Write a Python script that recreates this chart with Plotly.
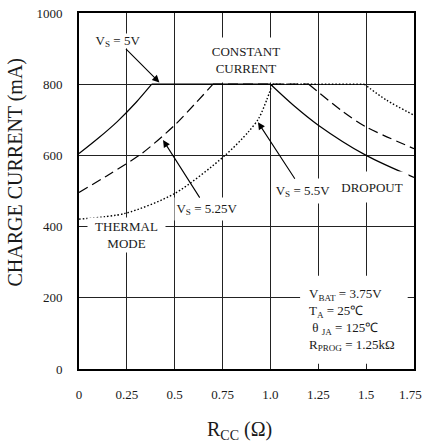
import plotly.graph_objects as go

# ---- data ----
x_ticks = [0, 0.25, 0.5, 0.75, 1.0, 1.25, 1.5, 1.75]
x_tick_labels = ["0", "0.25", "0.5", "0.75", "1.0", "1.25", "1.5", "1.75"]
y_ticks = [0, 200, 400, 600, 800, 1000]

plateau = 800  # constant current (mA)

# VS = 5V (solid)
vs5_rise_x = [0, 0.1, 0.2, 0.3, 0.38]
vs5_rise_y = [605, 648, 695, 750, 800]
vs5_fall_x = [1.0, 1.12, 1.25, 1.5, 1.75]
vs5_fall_y = [800, 741, 685, 600, 538]

# VS = 5.25V (dashed)
vs525_rise_x = [0, 0.153, 0.327, 0.5, 0.606, 0.70]
vs525_rise_y = [496, 545, 605, 685, 745, 800]
vs525_fall_x = [1.2, 1.381, 1.5, 1.75]
vs525_fall_y = [800, 722, 680, 619]

# VS = 5.5V (dotted)
vs55_rise_x = [0, 0.24, 0.5, 0.763, 0.885, 0.94, 0.98, 1.01]
vs55_rise_y = [421, 437, 493, 600, 666, 705, 755, 800]
vs55_fall_x = [1.49, 1.607, 1.75]
vs55_fall_y = [800, 755, 713]

FONT = "Liberation Serif, Times New Roman, serif"
TXT = "#1a1a1a"

fig = go.Figure()


def add_series(rx, ry, fx, fy, dash, width=1.2):
    style = dict(color="black", width=width, dash=dash)
    fig.add_trace(go.Scatter(x=rx, y=ry, mode="lines", line=dict(shape="spline", smoothing=0.8, **style),
                             hoverinfo="skip", showlegend=False))
    fig.add_trace(go.Scatter(x=[rx[-1], fx[0]], y=[plateau, plateau], mode="lines", line=style,
                             hoverinfo="skip", showlegend=False))
    fig.add_trace(go.Scatter(x=fx, y=fy, mode="lines", line=dict(shape="spline", smoothing=0.8, **style),
                             hoverinfo="skip", showlegend=False))


add_series(vs5_rise_x, vs5_rise_y, vs5_fall_x, vs5_fall_y, "solid")
add_series(vs525_rise_x, vs525_rise_y, vs525_fall_x, vs525_fall_y, "10px,5px")
add_series(vs55_rise_x, vs55_rise_y, vs55_fall_x, vs55_fall_y, "1.5px,2px", 1.4)

tf = dict(family=FONT, size=13, color=TXT)

# white box behind the conditions text
fig.add_shape(type="rect", xref="x", yref="y", x0=1.155, x1=1.717, y0=15, y1=262,
              fillcolor="white", line=dict(width=0), layer="between")

def label(text, x, y, w, h):
    fig.add_annotation(x=x, y=y, xref="x", yref="y", text=text, showarrow=False,
                       font=tf, bgcolor="white", width=w, height=h, borderpad=0)

def arrow_label(text, hx, hy, ax, ay, w, h):
    fig.add_annotation(x=hx, y=hy, xref="x", yref="y", text=text, showarrow=True,
                       ax=ax, ay=ay, font=tf, bgcolor="white", width=w, height=h, borderpad=0,
                       arrowhead=2, arrowsize=1.3, arrowwidth=1.1, arrowcolor="black")

arrow_label("V<sub>S</sub> = 5V", 0.42, 805, -41, -41, 48, 14)
arrow_label("V<sub>S</sub> = 5.25V", 0.439, 643, 44, 69, 64, 22)
arrow_label("V<sub>S</sub> = 5.5V", 0.935, 693, 45, 69, 62, 24)
label("CONSTANT<br>CURRENT", 0.872, 867, 80, 44)
label("THERMAL<br>MODE", 0.248, 376, 77, 34)
label("DROPOUT", 1.528, 511, 72, 30)

fig.add_annotation(x=1.19, y=140, xref="x", yref="y", xanchor="left", align="left", showarrow=False,
                   text="V<sub>BAT</sub> = 3.75V<br>T<sub>A</sub> = 25℃<br> θ <sub>JA</sub> = 125℃<br>R<sub>PROG</sub> = 1.25kΩ",
                   font=tf)

# last x tick label nudged left so it stays inside the page (as in the reference)
fig.add_annotation(x=x_ticks[-1], y=0, xref="x", yref="paper", text=x_tick_labels[-1],
                   showarrow=False, xanchor="center", yanchor="middle", xshift=-4, yshift=-25,
                   font=tf)

# axis titles
fig.add_annotation(x=0.48, y=-0.173, xref="paper", yref="paper", showarrow=False,
                   xanchor="center", yanchor="middle",
                   text="R<sub>CC</sub> (Ω)", font=dict(family=FONT, size=20, color=TXT))
fig.add_annotation(x=-0.191, y=0.552, xref="paper", yref="paper", showarrow=False, textangle=-90,
                   xanchor="center", yanchor="middle",
                   text="CHARGE CURRENT (mA)", font=dict(family=FONT, size=20, color=TXT))

fig.update_xaxes(range=[0, 1.75], tickvals=x_ticks[:-1], ticktext=x_tick_labels[:-1], showgrid=True,
                 gridcolor="#222", gridwidth=1, zeroline=False, showline=True, linecolor="black",
                 linewidth=2, mirror=True, ticks="", ticklabelstandoff=12, tickfont=tf,
                 ticklabeloverflow="allow", automargin=False)
fig.update_yaxes(range=[0, 1000], tickvals=y_ticks, showgrid=True, gridcolor="#222", gridwidth=1,
                 zeroline=False, showline=True, linecolor="black", linewidth=2, mirror=True,
                 ticks="", ticklabelstandoff=12, tickfont=tf, ticklabeloverflow="allow",
                 automargin=False)

fig.update_layout(width=423, height=444, autosize=False, margin=dict(l=79, r=9, t=13, b=75),
                  paper_bgcolor="white", plot_bgcolor="white", showlegend=False)

page_js = ("document.documentElement.style.margin='0';document.documentElement.style.padding='0';"
           "document.documentElement.style.overflow='hidden';"
           "document.body.style.margin='0';document.body.style.padding='0';"
           "document.body.style.overflow='hidden';")

fig.write_html("out.html", config={"responsive": False, "displayModeBar": False},
               post_script=page_js)
